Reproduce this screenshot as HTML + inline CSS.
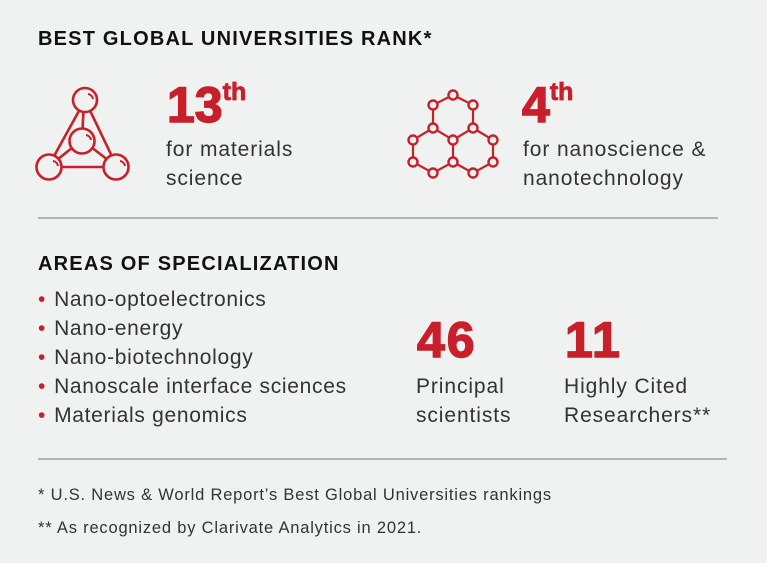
<!DOCTYPE html>
<html><head><style>
body{margin:0;width:767px;height:563px;background:#f0f1f1;font-family:"Liberation Sans",sans-serif;color:#2b2b2b;position:relative;overflow:hidden}
.a{position:absolute;white-space:nowrap}
.h{font-weight:bold;font-size:20px;color:#111;letter-spacing:1.2px}
.big{font-weight:bold;color:#c8202a;font-size:50px;letter-spacing:0px;-webkit-text-stroke:1.5px #c8202a}
.big sup{font-size:25px;vertical-align:22px;letter-spacing:0;-webkit-text-stroke:0.8px #c8202a}
.t{font-size:21px;line-height:29px;color:#333;letter-spacing:0.9px}
.hr{position:absolute;height:1.5px;background:#b5b5b5}
.li{font-size:21px;line-height:29px;color:#333;letter-spacing:0.7px}
.li span{color:#c8202a;margin-right:8px}
.f{font-size:16.5px;color:#333;letter-spacing:0.8px}
</style></head><body>
<div class="a h" style="left:38px;top:28px">BEST GLOBAL UNIVERSITIES RANK*</div>
<svg class="a" style="left:0;top:0" width="767" height="563">
<g fill="none" stroke="#c8202a" stroke-width="2.6">
<line x1="85" y1="100" x2="48" y2="167"/><line x1="85" y1="100" x2="117" y2="167"/>
<line x1="48" y1="167" x2="117" y2="167"/><line x1="84" y1="100" x2="82" y2="140"/>
<line x1="82" y1="140" x2="48" y2="167"/><line x1="82" y1="140" x2="117" y2="167"/>
<circle cx="85" cy="100" r="12" fill="#f0f1f1"/><circle cx="82" cy="141" r="12.5" fill="#f0f1f1"/>
<circle cx="49" cy="167" r="12.5" fill="#f0f1f1"/><circle cx="116" cy="167" r="12.5" fill="#f0f1f1"/>
<path d="M88 94a6 6 0 0 1 5 5M86 135a6 6 0 0 1 5 5M53 161a6 6 0 0 1 5 5M120 161a6 6 0 0 1 5 5" stroke-width="2"/>
<path d="M453 95L433 105L433 128L453 140L473 128L473 105Z M433 128L413 140L413 162L433 173L453 162L453 140 M473 128L493 140L493 162L473 173L453 162" stroke-width="2.2"/>
<g fill="#f0f1f1" stroke-width="2.4">
<circle cx="453" cy="95" r="4.5"/><circle cx="433" cy="105" r="4.5"/><circle cx="473" cy="105" r="4.5"/>
<circle cx="433" cy="128" r="4.5"/><circle cx="473" cy="128" r="4.5"/><circle cx="453" cy="140" r="4.5"/>
<circle cx="413" cy="140" r="4.5"/><circle cx="493" cy="140" r="4.5"/><circle cx="413" cy="162" r="4.5"/>
<circle cx="453" cy="162" r="4.5"/><circle cx="493" cy="162" r="4.5"/><circle cx="433" cy="173" r="4.5"/><circle cx="473" cy="173" r="4.5"/>
</g></g></svg>
<div class="a big" style="left:167px;top:76px">13<sup>th</sup></div>
<div class="a t" style="left:166px;top:135px">for materials<br>science</div>
<div class="a big" style="left:522px;top:76px">4<sup>th</sup></div>
<div class="a t" style="left:523px;top:135px">for nanoscience &amp;<br>nanotechnology</div>
<div class="hr" style="left:38px;top:217px;width:680px"></div>
<div class="a h" style="left:38px;top:253px">AREAS OF SPECIALIZATION</div>
<div class="a li" style="left:38px;top:285px">
<div><span>•</span>Nano-optoelectronics</div><div><span>•</span>Nano-energy</div><div><span>•</span>Nano-biotechnology</div><div><span>•</span>Nanoscale interface sciences</div><div><span>•</span>Materials genomics</div></div>
<div class="a big" style="left:417px;top:311px;letter-spacing:2px">46</div>
<div class="a t" style="left:416px;top:372px">Principal<br>scientists</div>
<div class="a big" style="left:565px;top:311px;letter-spacing:2px">11</div>
<div class="a t" style="left:564px;top:372px">Highly Cited<br>Researchers**</div>
<div class="hr" style="left:38px;top:458px;width:689px"></div>
<div class="a f" style="left:38px;top:486px">* U.S. News &amp; World Report’s Best Global Universities rankings</div>
<div class="a f" style="left:38px;top:519px">** As recognized by Clarivate Analytics in 2021.</div>
</body></html>
